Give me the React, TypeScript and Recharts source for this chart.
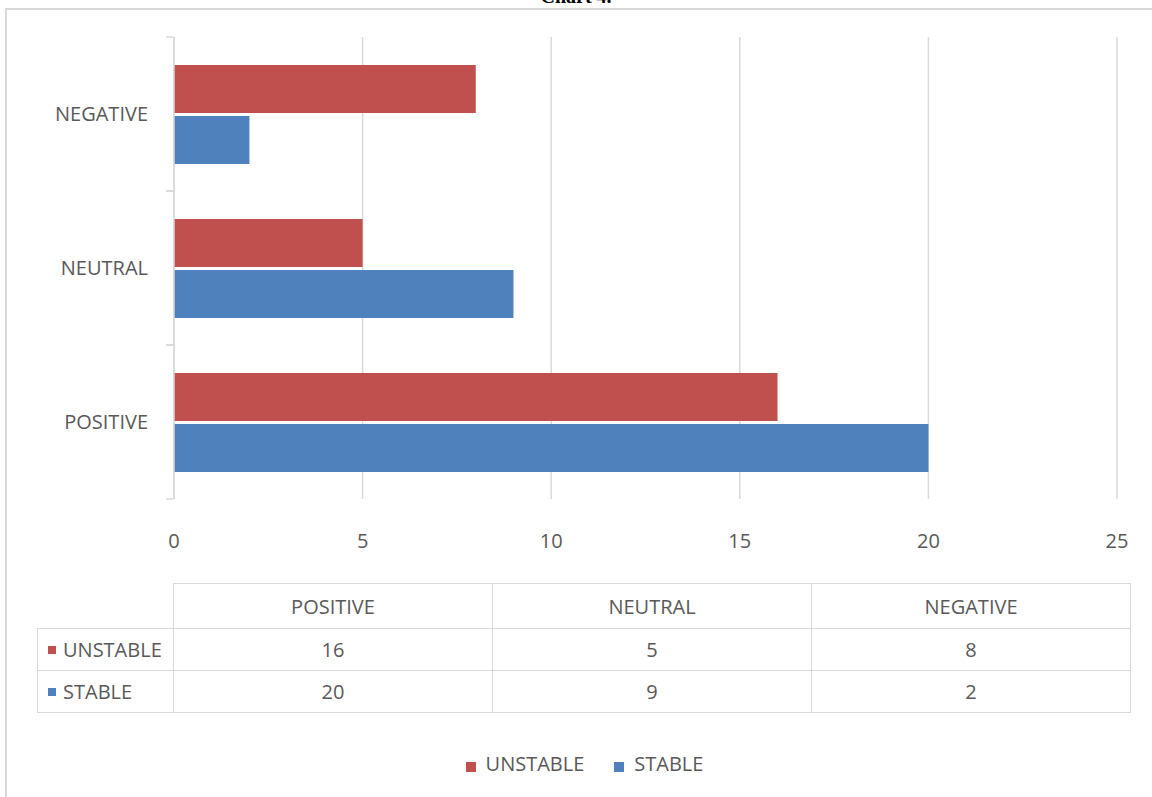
import React from 'react';
import { BarChart, Bar, XAxis, YAxis, CartesianGrid, Legend } from 'recharts';

// values
const categories = ['POSITIVE', 'NEUTRAL', 'NEGATIVE'];
const unstable = [16, 5, 8];
const stable = [20, 9, 2];
const xTicks = [0, 5, 10, 15, 20, 25];
const legendOrder = ['UNSTABLE', 'STABLE'];

const RED = '#C0504D';
const BLUE = '#4F81BD';
const TEXT = '#595959';
const LINE = '#D9D9D9';
const FONT = '"Open Sans", "Noto Sans", sans-serif';
const FS = 20;
const LABEL_GAP = 26;

const data = categories.map((name, i) => ({
  name,
  UNSTABLE: unstable[i],
  STABLE: stable[i],
}));

const rows = [
  { label: 'UNSTABLE', color: RED, values: unstable },
  { label: 'STABLE', color: BLUE, values: stable },
];

// category label plus the small marks at the band edges (Excel style)
const CategoryTick = (props: any) => {
  const { x, y, payload } = props;
  const half = payload?.offset ?? 0;
  const ax = x + LABEL_GAP;
  return (
    <g>
      <text x={x} y={y} dy="0.355em" textAnchor="end" fill={TEXT} fontSize={FS} fontFamily={FONT}>
        {payload.value}
      </text>
      {half > 0 && (
        <>
          <line x1={ax - 8} x2={ax} y1={y - half} y2={y - half} stroke={LINE} strokeWidth={1.5} />
          <line x1={ax - 8} x2={ax} y1={y + half} y2={y + half} stroke={LINE} strokeWidth={1.5} />
        </>
      )}
    </g>
  );
};

const cell = (left: number, top: number, width: number, height: number): React.CSSProperties => ({
  position: 'absolute',
  left,
  top,
  width,
  height,
  border: `1px solid ${LINE}`,
  boxSizing: 'border-box',
  display: 'flex',
  alignItems: 'center',
  justifyContent: 'center',
  color: TEXT,
  fontSize: FS,
  fontFamily: FONT,
});

const DataTable: React.FC = () => {
  const x0 = 173;
  const colW = 319;
  const headTop = 583;
  const headH = 46;
  const rowH = 42;
  return (
    <>
      {categories.map((c, i) => (
        <div key={c} style={cell(x0 + i * colW, headTop, colW + 1, headH)}>{c}</div>
      ))}
      {rows.map((r, ri) => (
        <React.Fragment key={r.label}>
          <div
            style={{
              ...cell(37, headTop + headH - 1 + ri * rowH, x0 - 37 + 1, rowH + 1),
              justifyContent: 'flex-start',
              paddingLeft: 10,
            }}
          >
            <span style={{ display: 'inline-block', width: 8, height: 8, background: r.color, marginRight: 7 }} />
            {r.label}
          </div>
          {r.values.map((v, ci) => (
            <div key={ci} style={cell(x0 + ci * colW, headTop + headH - 1 + ri * rowH, colW + 1, rowH + 1)}>
              {v}
            </div>
          ))}
        </React.Fragment>
      ))}
    </>
  );
};

export default function App() {
  return (
    <div style={{ position: 'absolute', left: 0, top: 0, width: 1152, height: 797, background: '#fff', overflow: 'hidden' }}>
      <div style={{ position: 'absolute', left: 5, top: 8, right: -10, bottom: -10, borderTop: `2px solid ${LINE}`, borderLeft: `2px solid ${LINE}` }} />
      <div
        style={{
          position: 'absolute',
          top: -15,
          left: 0,
          width: 1152,
          textAlign: 'center',
          fontFamily: '"Liberation Serif", "Times New Roman", serif',
          fontWeight: 'bold',
          fontSize: 20,
        }}
      >
        Chart 4.
      </div>
      <div style={{ position: 'absolute', left: 0, top: 0 }}>
        <BarChart
          width={1152}
          height={797}
          data={data}
          layout="vertical"
          margin={{ top: 37, right: 35, left: 0, bottom: 20 }}
          barCategoryGap={28}
          barGap={3}
        >
          <CartesianGrid horizontal={false} stroke={LINE} strokeWidth={1.5} />
          <XAxis
            type="number"
            domain={[0, 25]}
            ticks={xTicks}
            axisLine={false}
            tickLine={false}
            tickSize={0}
            tickMargin={35}
            height={251}
            tick={{ fill: TEXT, fontSize: FS, fontFamily: FONT }}
          />
          <YAxis
            type="category"
            dataKey="name"
            reversed
            width={174}
            axisLine={{ stroke: LINE, strokeWidth: 1.5 }}
            tickLine={false}
            tickSize={0}
            tickMargin={LABEL_GAP}
            tick={<CategoryTick />}
          />
          <Legend
            verticalAlign="bottom"
            align="center"
            iconType="square"
            iconSize={10}
            wrapperStyle={{ left: 47, width: 1105 }}
            itemSorter={(item: any) => legendOrder.indexOf(item.value)}
            formatter={(value) => (
              <span style={{ color: TEXT, fontSize: FS, fontFamily: FONT, marginLeft: 6, marginRight: 20 }}>{value}</span>
            )}
          />
          <Bar dataKey="UNSTABLE" name="UNSTABLE" fill={RED} isAnimationActive={false} />
          <Bar dataKey="STABLE" name="STABLE" fill={BLUE} isAnimationActive={false} />
        </BarChart>
      </div>
      <DataTable />
    </div>
  );
}
